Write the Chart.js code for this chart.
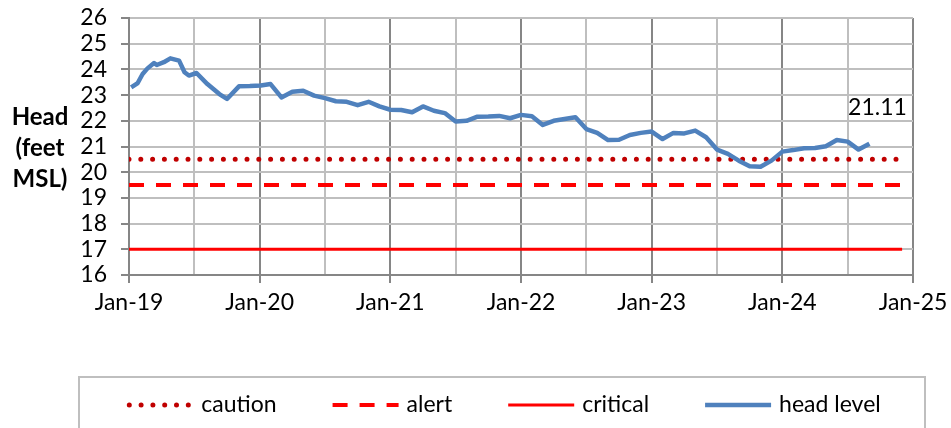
<!DOCTYPE html>
<html>
<head>
<meta charset="utf-8">
<script src="https://cdn.jsdelivr.net/npm/chart.js@4.4.1/dist/chart.umd.min.js"></script>
<style>
  html, body { margin: 0; padding: 0; background: #fff; }
  #wrap { width: 951px; height: 428px; position: relative; }
</style>
</head>
<body>
<div id="wrap"><canvas id="c" width="951" height="428"></canvas></div>
<script>
// ---- data (months since Jan-2019) ----
const headMonths = [0.2, 0.8, 1.25, 1.7, 2.3, 2.55, 3.2, 3.8, 4.6, 5.1, 5.5, 6.2, 7.2, 8.3, 9, 10.1, 11.1, 12.1,
  13, 14, 15, 16, 17, 18, 19, 20, 21, 22, 23, 24, 25, 26, 27, 28, 29, 30, 31, 32, 33, 34, 35, 36, 37, 38, 39, 40,
  41, 42, 43, 44, 45, 46, 47, 48, 49, 50, 51, 52, 53, 54, 55, 56, 57, 58, 59, 60, 61, 62, 63, 64, 65, 66, 67, 68];
const headLevel = [23.30, 23.47, 23.82, 24.04, 24.25, 24.17, 24.28, 24.43, 24.34, 23.89, 23.76, 23.86, 23.43, 23.04, 22.85, 23.34, 23.35, 23.37,
  23.43, 22.91, 23.13, 23.17, 22.98, 22.88, 22.76, 22.74, 22.61, 22.74, 22.56, 22.43, 22.42, 22.33, 22.56, 22.39, 22.30, 21.97, 22.00, 22.16, 22.17, 22.19, 22.10, 22.23, 22.18, 21.84, 22.00, 22.07,
  22.14, 21.68, 21.53, 21.25, 21.26, 21.45, 21.53, 21.58, 21.29, 21.53, 21.51, 21.62, 21.36, 20.88, 20.71, 20.45, 20.23, 20.21, 20.45, 20.80, 20.86, 20.93, 20.94, 21.01, 21.25, 21.19, 20.88, 21.11];
const thresholdMonths = [0, 71];
const cautionLevel = 20.5;
const alertLevel = 19.5;
const criticalLevel = 17;
const seriesLabels = ['caution', 'alert', 'critical', 'head level'];
const yearLabels = ['Jan-19', 'Jan-20', 'Jan-21', 'Jan-22', 'Jan-23', 'Jan-24', 'Jan-25'];
const yTitleLines = ['Head', '(feet', 'MSL)'];
const lastValueLabel = '21.11';

const FONT = 'Lato, "Open Sans", sans-serif';

const toPts = (xs, ys) => xs.map((x, i) => ({ x, y: ys[i] }));
const flat = (v) => thresholdMonths.map(x => ({ x, y: v }));

const yTitlePlugin = {
  id: 'yTitle',
  afterDraw(chart) {
    const ctx = chart.ctx, a = chart.chartArea;
    ctx.save();
    ctx.font = 'bold 24px ' + FONT;
    ctx.fillStyle = '#000';
    ctx.textAlign = 'center';
    ctx.textBaseline = 'middle';
    const cy = (a.top + a.bottom) / 2 + 2;
    yTitleLines.forEach((t, i) => ctx.fillText(t, 40, cy + (i - 1) * 31));
    ctx.restore();
  }
};

const lastLabelPlugin = {
  id: 'lastLabel',
  afterDatasetsDraw(chart) {
    const meta = chart.getDatasetMeta(3);
    const p = meta.data[meta.data.length - 1];
    const ctx = chart.ctx;
    ctx.save();
    ctx.font = '23px ' + FONT;
    ctx.fillStyle = '#000';
    ctx.textAlign = 'center';
    ctx.textBaseline = 'middle';
    ctx.fillText(lastValueLabel, p.x + 8, p.y - 36);
    ctx.restore();
  }
};

const legendPlugin = {
  id: 'boxLegend',
  afterDraw(chart) {
    const ctx = chart.ctx;
    ctx.save();
    ctx.strokeStyle = '#BFBFBF';
    ctx.lineWidth = 2;
    ctx.strokeRect(79, 377, 846, 80);
    ctx.font = '23px ' + FONT;
    const sample = 66, gap = 8, pad = 56;
    const ds = chart.data.datasets;
    let total = 0;
    ds.forEach((d, i) => { total += sample + gap + ctx.measureText(d.label).width + (i < ds.length - 1 ? pad : 0); });
    let x = 504 - total / 2;
    const y = 405;
    ds.forEach((d) => {
      ctx.beginPath();
      ctx.strokeStyle = d.borderColor;
      ctx.lineWidth = d.borderWidth;
      ctx.setLineDash(d.borderDash || []);
      ctx.lineCap = d.borderCapStyle || 'butt';
      const inset = d.borderCapStyle === 'round' ? 2 : 0;
      ctx.moveTo(x + inset, y);
      ctx.lineTo(x + sample - inset, y);
      ctx.stroke();
      ctx.setLineDash([]);
      ctx.fillStyle = '#000';
      ctx.textBaseline = 'middle';
      ctx.textAlign = 'left';
      ctx.fillText(d.label, x + sample + gap, y);
      x += sample + gap + ctx.measureText(d.label).width + pad;
    });
    ctx.restore();
  }
};

new Chart(document.getElementById('c'), {
  type: 'line',
  data: {
    datasets: [
      { label: seriesLabels[0], data: flat(cautionLevel), borderColor: '#C00000', borderWidth: 5,
        borderDash: [0, 11.8], borderCapStyle: 'round', pointRadius: 0, order: 1 },
      { label: seriesLabels[1], data: flat(alertLevel), borderColor: '#FF0000', borderWidth: 4,
        borderDash: [15, 12], borderCapStyle: 'butt', pointRadius: 0, order: 2 },
      { label: seriesLabels[2], data: flat(criticalLevel), borderColor: '#FF0000', borderWidth: 3,
        pointRadius: 0, order: 3 },
      { label: seriesLabels[3], data: toPts(headMonths, headLevel), borderColor: '#4F81BD', borderWidth: 4.5,
        pointRadius: 0, tension: 0, borderJoinStyle: 'round', order: 0 }
    ]
  },
  options: {
    responsive: false,
    animation: false,
    devicePixelRatio: 1,
    layout: { padding: { left: 0, top: 18, right: 38, bottom: 113 } },
    plugins: { legend: { display: false }, tooltip: { enabled: false } },
    scales: {
      x: {
        type: 'linear', min: 0, max: 72,
        afterFit(s) { s.height = 40; s.paddingLeft = 0; s.paddingRight = 0; },
        afterBuildTicks(s) { s.ticks = []; for (let v = 0; v <= 72; v += 6) s.ticks.push({ value: v }); },
        ticks: {
          color: '#000', font: { family: FONT, size: 23 }, padding: 6, maxRotation: 0, autoSkip: false,
          callback: (v) => (v % 12 === 0 ? yearLabels[v / 12] : '')
        },
        grid: {
          color: (c) => (c.tick && c.tick.value % 12 === 0 ? '#868686' : '#BFBFBF'),
          lineWidth: 2,
          tickLength: 8,
          tickColor: (c) => (c.tick && c.tick.value % 12 === 0 ? '#868686' : 'rgba(0,0,0,0)')
        },
        border: { color: '#868686', width: 2 }
      },
      y: {
        min: 16, max: 26,
        afterFit(s) { s.width = 129; s.paddingTop = 0; s.paddingBottom = 0; },
        afterBuildTicks(s) { s.ticks = []; for (let v = 16; v <= 26; v += 1) s.ticks.push({ value: v }); },
        ticks: { color: '#000', font: { family: FONT, size: 23 }, padding: 14, autoSkip: false },
        grid: { color: '#BFBFBF', lineWidth: 2, tickLength: 8, tickColor: '#868686' },
        border: { color: '#868686', width: 2 }
      }
    }
  },
  plugins: [yTitlePlugin, lastLabelPlugin, legendPlugin]
});
</script>
</body>
</html>
